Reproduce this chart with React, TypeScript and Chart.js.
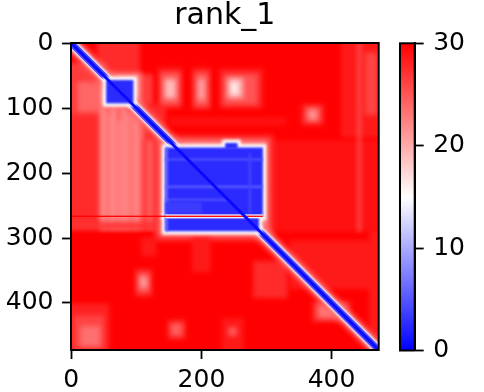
import React, { useEffect, useRef } from 'react';
import { Chart, registerables } from 'chart.js';

Chart.register(...registerables);

// ---------------- data ----------------
const TITLE = 'rank_1';
const N_RES = 473; // residues 0..472
const X_TICKS = [0, 200, 400];
const Y_TICKS = [0, 100, 200, 300, 400];
const CB_TICKS = [0, 10, 20, 30];
const PAE_MIN = 0;
const PAE_MAX = 30;
const CB_STOPS = [0, 15, 30];

// regions: [scoredResStart, scoredResEnd, alignedResStart, alignedResEnd, PAE]
const BACKGROUND: number[][] = [[0, 472, 0, 472, 30]];

const PINK_TOP_LEFT: number[][] = [
  [40, 105, 0, 48, 27.5],
  [0, 145, 95, 286, 27.5],
  [0, 55, 30, 110, 26.5],
  [10, 50, 60, 105, 24],
  [95, 125, 48, 95, 26.5],
  [42, 108, 45, 104, 24],
  [47, 103, 50, 99, 20],
  [43, 112, 95, 286, 24],
  [48, 51, 100, 286, 20],
  [58, 60, 110, 286, 21],
  [64, 66, 100, 286, 19],
  [72, 75, 120, 286, 21],
  [80, 82, 100, 286, 19],
  [88, 90, 110, 286, 20],
  [98, 101, 100, 286, 20],
  [112, 141, 150, 286, 26],
  [120, 123, 150, 286, 23],
  [0, 145, 276, 286, 27],
];

const PINK_TOP_BAND: number[][] = [
  [134, 170, 38, 100, 28],
  [138, 166, 46, 94, 24.5],
  [144, 160, 56, 84, 19],
  [186, 214, 38, 102, 28],
  [190, 210, 46, 96, 24.5],
  [196, 204, 56, 86, 20],
  [228, 294, 40, 100, 28],
  [234, 286, 48, 94, 25],
  [240, 264, 54, 84, 20],
  [246, 256, 60, 78, 16],
  [150, 330, 114, 126, 29],
  [354, 388, 94, 126, 28],
  [360, 382, 99, 121, 24.5],
  [366, 376, 104, 116, 21],
  [415, 472, 0, 145, 28.5],
  [452, 470, 15, 110, 26],
  [293, 472, 150, 290, 29],
  [441, 444, 0, 290, 24],
  [128, 310, 142, 304, 27],
  [136, 302, 150, 296, 22],
];

const PINK_LOWER: number[][] = [
  [98, 124, 348, 390, 28],
  [102, 120, 354, 384, 25],
  [106, 116, 360, 376, 21],
  [0, 58, 402, 472, 28],
  [4, 50, 420, 470, 26],
  [14, 44, 436, 466, 23.5],
  [148, 176, 426, 456, 28],
  [153, 170, 432, 450, 24.5],
  [108, 130, 300, 328, 28.5],
  [186, 214, 300, 352, 28.5],
  [280, 332, 336, 392, 27.5],
  [336, 472, 304, 378, 28.5],
  [372, 428, 398, 428, 26.5],
  [380, 420, 404, 422, 23],
  [232, 264, 424, 472, 28.5],
  [242, 254, 438, 450, 24.5],
  [458, 472, 290, 472, 28.5],
];

const BLOCK_RIMS: number[][] = [
  [49, 100, 52, 97, 15],
  [140, 299, 156, 272, 15],
  [232, 260, 149, 162, 15],
  [140, 293, 264, 294, 15],
];

const BLOCKS: number[][] = [
  [54, 95, 57, 92, 2.5],
  [145, 294, 161, 267, 2.5],
  [237, 255, 154, 162, 2.5],
  [145, 288, 269, 289, 2.5],
];

const BLOCK_INNER: number[][] = [
  [145, 294, 178, 180, 5],
  [145, 294, 220, 222, 6],
  [145, 240, 240, 242, 5],
  [145, 148, 161, 289, 6],
  [145, 200, 245, 262, 3.5],
  [273, 276, 170, 262, 4],
];

const STRIPES: number[][] = [
  [145, 294, 264, 269, 14],
  [0, 294, 266, 267, 30],
];

const DIAG_X = [-0.5, 472.5];
const DIAG_Y = [-0.5, 472.5];
const DIAG_LAYER_PAE = [24, 14, 4, 0.5];

// ---------------- helpers ----------------
const FONT = "'DejaVu Sans', sans-serif";

function bwr(v: number): string {
  const t = Math.min(1, Math.max(0, (v - PAE_MIN) / (PAE_MAX - PAE_MIN)));
  let r: number, g: number, b: number;
  if (t < 0.5) {
    r = g = 2 * t;
    b = 1;
  } else {
    r = 1;
    g = b = 2 * (1 - t);
  }
  return `rgb(${Math.round(r * 255)},${Math.round(g * 255)},${Math.round(b * 255)})`;
}

function drawRegions(chart: any, regions: number[][], blur: number) {
  const { ctx, scales } = chart;
  const xs = scales.x;
  const ys = scales.y;
  const ext = blur > 0 ? blur * 4 : 0;
  ctx.filter = blur > 0 ? `blur(${blur}px)` : 'none';
  for (const [x0, x1, y0, y1, v] of regions) {
    let px0 = xs.getPixelForValue(x0 - 0.5);
    let px1 = xs.getPixelForValue(x1 + 0.5);
    let py0 = ys.getPixelForValue(y0 - 0.5);
    let py1 = ys.getPixelForValue(y1 + 0.5);
    // extend past the image border so blur does not fade at the edges
    if (x0 <= 0) px0 -= ext;
    if (x1 >= N_RES - 1) px1 += ext;
    if (y0 <= 0) py0 -= ext;
    if (y1 >= N_RES - 1) py1 += ext;
    ctx.fillStyle = bwr(v);
    ctx.fillRect(Math.min(px0, px1), Math.min(py0, py1), Math.abs(px1 - px0), Math.abs(py1 - py0));
  }
  ctx.filter = 'none';
}

function clipToArea(chart: any) {
  const { ctx, chartArea } = chart;
  ctx.beginPath();
  ctx.rect(chartArea.left, chartArea.top, chartArea.right - chartArea.left, chartArea.bottom - chartArea.top);
  ctx.clip();
}

const DIAG_BLUR: Record<string, number> = { halo: 2.5, rim: 0.8, band: 0.4, core: 0 };

const heatPlugin = {
  id: 'paeHeat',
  beforeDatasetsDraw(chart: any) {
    const { ctx } = chart;
    ctx.save();
    clipToArea(chart);
    drawRegions(chart, BACKGROUND, 0);
    drawRegions(chart, PINK_TOP_LEFT, 2.5);
    drawRegions(chart, PINK_TOP_BAND, 2.5);
    drawRegions(chart, PINK_LOWER, 2.5);
    ctx.restore();
  },
  beforeDatasetDraw(chart: any, args: any) {
    const label = chart.data.datasets[args.index].label;
    const { ctx } = chart;
    if (label === 'core') {
      ctx.save();
      clipToArea(chart);
      drawRegions(chart, BLOCK_RIMS, 1.5);
      drawRegions(chart, BLOCKS, 0.8);
      drawRegions(chart, BLOCK_INNER, 1);
      drawRegions(chart, STRIPES, 0.4);
      ctx.restore();
    }
    const b = DIAG_BLUR[label] || 0;
    ctx.filter = b > 0 ? `blur(${b}px)` : 'none';
  },
  afterDatasetDraw(chart: any) {
    chart.ctx.filter = 'none';
  },
  afterDraw(chart: any) {
    const { ctx, chartArea } = chart;
    ctx.save();
    ctx.filter = 'none';
    ctx.strokeStyle = '#000';
    ctx.lineWidth = 2;
    ctx.strokeRect(chartArea.left, chartArea.top, chartArea.right - chartArea.left, chartArea.bottom - chartArea.top);
    ctx.restore();
  },
};

const colorbarPlugin = {
  id: 'colorbar',
  beforeDatasetsDraw(chart: any) {
    const { ctx, chartArea, scales } = chart;
    const ys = scales.y;
    const yLo = ys.getPixelForValue(PAE_MIN);
    const yHi = ys.getPixelForValue(PAE_MAX);
    const grad = ctx.createLinearGradient(0, yLo, 0, yHi);
    for (const s of CB_STOPS) {
      grad.addColorStop((s - PAE_MIN) / (PAE_MAX - PAE_MIN), bwr(s));
    }
    ctx.save();
    ctx.fillStyle = grad;
    ctx.fillRect(chartArea.left, yHi, chartArea.right - chartArea.left, yLo - yHi);
    ctx.restore();
  },
  afterDraw(chart: any) {
    const { ctx, chartArea } = chart;
    ctx.save();
    ctx.strokeStyle = '#000';
    ctx.lineWidth = 2;
    ctx.strokeRect(chartArea.left, chartArea.top, chartArea.right - chartArea.left, chartArea.bottom - chartArea.top);
    ctx.restore();
  },
};

const tickFont = { family: FONT, size: 25 };

export default function App() {
  const mainRef = useRef<HTMLCanvasElement | null>(null);
  const cbRef = useRef<HTMLCanvasElement | null>(null);

  useEffect(() => {
    const diagData = DIAG_X.map((x, i) => ({ x, y: DIAG_Y[i] }));
    const widths = [15, 9.5, 6.5, 3];
    const labels = ['halo', 'rim', 'band', 'core'];
    const datasets = DIAG_LAYER_PAE.map((v, i) => ({
      label: labels[i],
      data: diagData,
      showLine: true,
      borderColor: bwr(v),
      borderWidth: widths[i],
      pointRadius: 0,
      clip: 0,
      order: 4 - i,
    }));

    const main = new Chart(mainRef.current as HTMLCanvasElement, {
      type: 'scatter',
      data: { datasets },
      options: {
        animation: false,
        responsive: false,
        events: [],
        layout: { padding: { left: 0, right: 11.3, top: 0, bottom: 0 } },
        plugins: {
          legend: { display: false },
          tooltip: { enabled: false },
          title: {
            display: true,
            text: TITLE,
            fullSize: false,
            color: '#000',
            font: { family: FONT, size: 30, weight: 'normal', lineHeight: 1 },
            padding: { top: 1, bottom: 12 },
          },
        },
        scales: {
          x: {
            type: 'linear',
            position: 'bottom',
            min: -0.5,
            max: N_RES - 0.5,
            afterBuildTicks: (s: any) => {
              s.ticks = X_TICKS.map((v) => ({ value: v }));
            },
            afterFit: (s: any) => {
              s.height = 42;
            },
            ticks: { autoSkip: false, maxRotation: 0, font: tickFont, color: '#000', padding: 6 },
            grid: { drawOnChartArea: false, drawTicks: true, tickLength: 9, tickColor: '#000', tickWidth: 1.8 },
            border: { display: true, color: '#000', width: 2 },
          },
          y: {
            type: 'linear',
            reverse: true,
            min: -0.5,
            max: N_RES - 0.5,
            afterBuildTicks: (s: any) => {
              s.ticks = Y_TICKS.map((v) => ({ value: v }));
            },
            afterFit: (s: any) => {
              s.width = 71;
            },
            ticks: { autoSkip: false, font: tickFont, color: '#000', padding: 8.5 },
            grid: { drawOnChartArea: false, drawTicks: true, tickLength: 9, tickColor: '#000', tickWidth: 1.8 },
            border: { display: true, color: '#000', width: 2 },
          },
        },
      } as any,
      plugins: [heatPlugin],
    });

    const cb = new Chart(cbRef.current as HTMLCanvasElement, {
      type: 'scatter',
      data: { datasets: [] },
      options: {
        animation: false,
        responsive: false,
        events: [],
        layout: { padding: { left: 10, right: 0, top: 43.3, bottom: 41.5 } },
        plugins: { legend: { display: false }, tooltip: { enabled: false } },
        scales: {
          x: { display: false, min: 0, max: 1 },
          y: {
            position: 'right',
            min: PAE_MIN,
            max: PAE_MAX,
            afterBuildTicks: (s: any) => {
              s.ticks = CB_TICKS.map((v) => ({ value: v }));
            },
            afterFit: (s: any) => {
              s.width = 69.3;
            },
            ticks: { autoSkip: false, font: tickFont, color: '#000', padding: 9.5 },
            grid: { drawOnChartArea: false, drawTicks: true, tickLength: 9, tickColor: '#000', tickWidth: 1.8 },
            border: { display: true, color: '#000', width: 2 },
          },
        },
      } as any,
      plugins: [colorbarPlugin],
    });

    return () => {
      main.destroy();
      cb.destroy();
    };
  }, []);

  return (
    <div style={{ position: 'fixed', left: 0, top: 0, width: 484, height: 392, background: '#fff' }}>
      <canvas ref={mainRef} width={390} height={392} style={{ position: 'absolute', left: 0, top: 0, width: 390, height: 392 }} />
      <canvas ref={cbRef} width={94} height={392} style={{ position: 'absolute', left: 390, top: 0, width: 94, height: 392 }} />
    </div>
  );
}
